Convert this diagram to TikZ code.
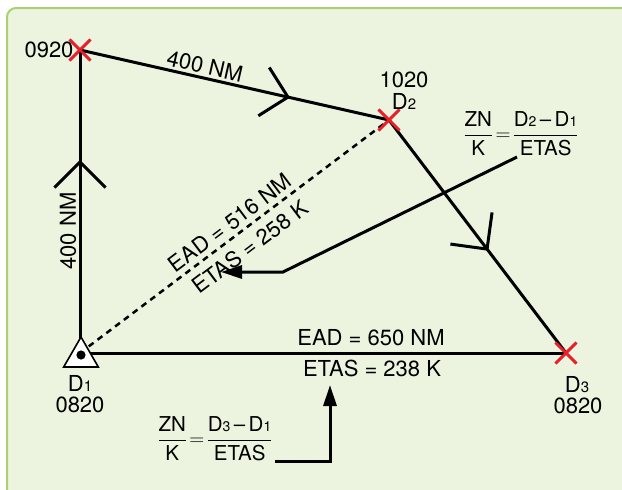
\documentclass[tikz,border=0pt]{standalone}
\usepackage{fontspec}
\setmainfont{TeX Gyre Heros}
\usepackage{amsmath}
\usetikzlibrary{shapes.misc,shapes.geometric,arrows.meta,calc}
\definecolor{bgfill}{HTML}{ECF4DF}
\definecolor{bgedge}{HTML}{A8D26E}
\definecolor{xred}{HTML}{E8202A}
\newcommand{\subd}[1]{{\fontsize{15}{15}\selectfont #1}}
\newcommand{\subf}[1]{{\fontsize{14}{14}\selectfont #1}}
\newcommand{\myfr}[2]{\genfrac{}{}{1.5pt}{0}{\text{#1}}{\text{#2}}}
\tikzset{
  lbl/.style={inner sep=0pt, font=\fontsize{22}{24}\selectfont},
  flbl/.style={inner sep=0pt, font=\fontsize{20.5}{22}\selectfont},
  xmark/.style={cross out, draw=xred, line width=2.8pt, minimum size=18pt, inner sep=0pt},
  leg/.style={line width=3pt, black},
  chev/.style={line width=3pt, black},
  ptr/.style={line width=3pt, black, -{Triangle[length=21pt,width=13pt]}},
}
\begin{document}
\begin{tikzpicture}[x=1pt,y=-1pt]
\useasboundingbox (0,0) rectangle (622,490);
\clip (0,0) rectangle (622,490);
\fill[white] (0,0) rectangle (622,490);
\draw[bgedge, line width=2pt, fill=bgfill, rounded corners=9pt] (7,8) rectangle (660,530);

% points
\node[xmark] (p0920) at (80,50) {};
\node[xmark] (d2) at (389,120) {};
\node[xmark] (d3) at (566,353) {};
\coordinate (d1) at (80,353);

% legs
\draw[leg] (d1) -- (p0920.center);
\draw[leg] (p0920.center) -- (d2.center);
\draw[leg] (d2.center) -- (d3.center);
\draw[leg] (d1) -- (d3.center);
\draw[line width=2.5pt, dash pattern=on 6pt off 5pt] (d1) -- (d2.center);

% chevrons
\coordinate (v1) at ($(d1)!0.63!(p0920)$);
\draw[chev] ($(v1)!36pt!45:(d1)$) -- (v1) -- ($(v1)!36pt!-45:(d1)$);
\coordinate (v2) at ($(p0920)!0.673!(d2)$);
\draw[chev] ($(v2)!35pt!45:(p0920)$) -- (v2) -- ($(v2)!35pt!-45:(p0920)$);
\coordinate (v3) at ($(d2)!0.554!(d3)$);
\draw[chev] ($(v3)!37pt!45:(d2)$) -- (v3) -- ($(v3)!37pt!-45:(d2)$);

% redraw red marks on top
\node[xmark] at (p0920) {};
\node[xmark] at (d2) {};
\node[xmark] at (d3) {};

% D1 triangle
\node[regular polygon, regular polygon sides=3, minimum size=40pt, inner sep=0pt, draw=black, fill=white, line width=1.6pt] (tri) at (81,357) {};
\fill[black] (81,355) circle (4.6pt);

% labels
\node[lbl] (t0920) at (49,50) {0920};
\node[lbl, rotate=-12.8] (l400a) at (205,66) {400 NM};
\node[lbl, rotate=90] (l400b) at (68,231) {400 NM};
\node[lbl] (t1020) at (404,80) {1020};
\node[lbl] (td2) at (404,101) {D\subd{2}};
\node[lbl, rotate=37] (ead1) at (230,223) {EAD = 516 NM};
\node[lbl, rotate=37] (etas1) at (250,247) {ETAS = 258 K};
\node[lbl] (ead2) at (371,338) {EAD = 650 NM};
\node[lbl] (etas2) at (372,368) {ETAS = 238 K};
\node[lbl] (td1) at (80,383) {D\subd{1}};
\node[lbl] (t0820a) at (80,405) {0820};
\node[lbl] (td3) at (577,385) {D\subd{3}};
\node[lbl] (t0820b) at (578,406) {0820};

% formulas
\node[flbl] (f1) at (521,134) {$\myfr{ZN}{K}\!=\!\myfr{D\subf{2}\,–\,D\subf{1}}{ETAS}$};
\node[flbl] (f2) at (215,439) {$\myfr{ZN}{K}\!=\!\myfr{D\subf{3}\,–\,D\subf{1}}{ETAS}$};

% pointers
\coordinate (a1s) at (517,157);
\coordinate (a1m) at (283,272);
\coordinate (a1e) at (221,272);
\draw[ptr] (a1s) -- (a1m) -- (a1e);
\coordinate (a2s) at (275,461);
\coordinate (a2m) at (330,461);
\coordinate (a2e) at (330,385);
\draw[ptr] (a2s) -- (a2m) -- (a2e);
\end{tikzpicture}
\end{document}
